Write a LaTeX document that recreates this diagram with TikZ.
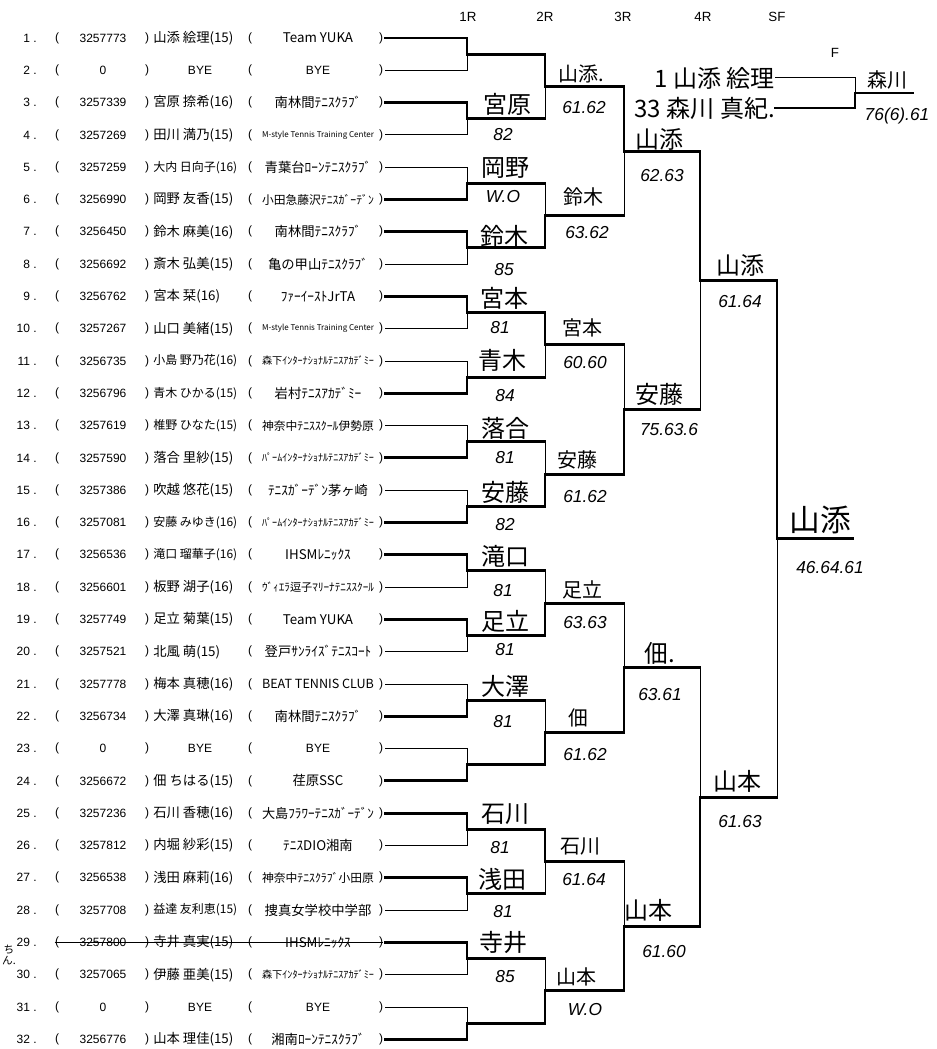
\documentclass[tikz,border=0pt]{standalone}
\usepackage{fontspec}
\usepackage{graphicx}
\setmainfont{Liberation Sans}
\newfontfamily\jp{Noto Sans CJK JP}
\newsavebox\fitbox
\newcommand\fitw[2]{\sbox\fitbox{#2}\ifdim\wd\fitbox>#1\relax\resizebox{#1}{!}{\usebox\fitbox}\else\usebox\fitbox\fi}
\tikzset{
  rowtxt/.style={inner sep=0pt, font=\fontsize{9}{10}\selectfont},
  nametxt/.style={inner sep=0pt, font=\jp\fontsize{10}{11}\selectfont},
  win/.style={line width=2.2pt, line join=miter, line cap=rect},
  lose/.style={line width=0.75pt},
  hwA/.style={inner sep=0pt, font=\jp\fontsize{18}{19}\selectfont},
  hwB/.style={inner sep=0pt, font=\jp\fontsize{15}{16}\selectfont},
  hwC/.style={inner sep=0pt, font=\jp\fontsize{18}{19}\selectfont},
  hwD/.style={inner sep=0pt, font=\jp\fontsize{23}{24}\selectfont},
  score/.style={inner sep=0pt, font=\fontsize{13}{14}\selectfont\itshape},
  hdr/.style={inner sep=0pt, font=\fontsize{10}{12}\selectfont},
}
\begin{document}
\begin{tikzpicture}[x=0.75pt,y=-0.75pt]
\useasboundingbox (0,0) rectangle (937,1049);
\fill[white] (0,0) rectangle (937,1049);

% headers
\node[hdr] (h1) at (468,17) {1R};
\node[hdr] (h2) at (545,17) {2R};
\node[hdr] (h3) at (623,17) {3R};
\node[hdr] (h4) at (703,17) {4R};
\node[hdr] (h5) at (777,17) {SF};
\node[hdr] (h6) at (835,53) {F};

% player rows
\foreach \i/\id/\nm/\cl in {
 1/3257773/山添 絵理(15)/Team YUKA,
 3/3257339/宮原 捺希(16)/南林間ﾃﾆｽｸﾗﾌﾞ,
 4/3257269/田川 満乃(15)/M-style Tennis Training Center,
 5/3257259/大内 日向子(16)/青葉台ﾛｰﾝﾃﾆｽｸﾗﾌﾞ,
 6/3256990/岡野 友香(15)/小田急藤沢ﾃﾆｽｶﾞｰﾃﾞﾝ,
 7/3256450/鈴木 麻美(16)/南林間ﾃﾆｽｸﾗﾌﾞ,
 8/3256692/斎木 弘美(15)/亀の甲山ﾃﾆｽｸﾗﾌﾞ,
 9/3256762/宮本 栞(16)/ﾌｧｰｲｰｽﾄJrTA,
 10/3257267/山口 美緒(15)/M-style Tennis Training Center,
 11/3256735/小島 野乃花(16)/森下ｲﾝﾀｰﾅｼｮﾅﾙﾃﾆｽｱｶﾃﾞﾐｰ,
 12/3256796/青木 ひかる(15)/岩村ﾃﾆｽｱｶﾃﾞﾐｰ,
 13/3257619/椎野 ひなた(15)/神奈中ﾃﾆｽｽｸｰﾙ伊勢原,
 14/3257590/落合 里紗(15)/ﾊﾟｰﾑｲﾝﾀｰﾅｼｮﾅﾙﾃﾆｽｱｶﾃﾞﾐｰ,
 15/3257386/吹越 悠花(15)/ﾃﾆｽｶﾞｰﾃﾞﾝ茅ヶ崎,
 16/3257081/安藤 みゆき(16)/ﾊﾟｰﾑｲﾝﾀｰﾅｼｮﾅﾙﾃﾆｽｱｶﾃﾞﾐｰ,
 17/3256536/滝口 瑠華子(16)/IHSMﾚﾆｯｸｽ,
 18/3256601/板野 湖子(16)/ｳﾞｨｴﾗ逗子ﾏﾘｰﾅﾃﾆｽｽｸｰﾙ,
 19/3257749/足立 菊葉(15)/Team YUKA,
 20/3257521/北風 萌(15)/登戸ｻﾝﾗｲｽﾞﾃﾆｽｺｰﾄ,
 21/3257778/梅本 真穂(16)/BEAT TENNIS CLUB,
 22/3256734/大澤 真琳(16)/南林間ﾃﾆｽｸﾗﾌﾞ,
 24/3256672/佃 ちはる(15)/荏原SSC,
 25/3257236/石川 香穂(16)/大島ﾌﾗﾜｰﾃﾆｽｶﾞｰﾃﾞﾝ,
 26/3257812/内堀 紗彩(15)/ﾃﾆｽDIO湘南,
 27/3256538/浅田 麻莉(16)/神奈中ﾃﾆｽｸﾗﾌﾞ小田原,
 28/3257708/益達 友利恵(15)/捜真女学校中学部,
 29/3257800/寺井 真実(15)/IHSMﾚﾆｯｸｽ,
 30/3257065/伊藤 亜美(15)/森下ｲﾝﾀｰﾅｼｮﾅﾙﾃﾆｽｱｶﾃﾞﾐｰ,
 32/3256776/山本 理佳(15)/湘南ﾛｰﾝﾃﾆｽｸﾗﾌﾞ}{
  \pgfmathsetmacro\yy{38+(\i-1)*32.3}
  \node[rowtxt, anchor=east] (no\i) at (37,\yy) {\i\ .};
  \node[rowtxt] (pa\i) at (57,\yy) {(};
  \node[rowtxt] (id\i) at (103,\yy) {\id};
  \node[rowtxt] (pb\i) at (147,\yy) {)};
  \node[nametxt, anchor=west] (nm\i) at (153,\yy) {\fitw{63pt}{\nm}};
  \node[rowtxt] (pc\i) at (250,\yy) {(};
  \node[nametxt] (cl\i) at (318,\yy) {\fitw{84pt}{\cl}};
  \node[rowtxt] (pd\i) at (381,\yy) {)};
}
\foreach \i in {2,23,31}{
  \pgfmathsetmacro\yy{38+(\i-1)*32.3}
  \node[rowtxt, anchor=east] (no\i) at (37,\yy) {\i\ .};
  \node[rowtxt] (pa\i) at (57,\yy) {(};
  \node[rowtxt] (id\i) at (103,\yy) {0};
  \node[rowtxt] (pb\i) at (147,\yy) {)};
  \node[rowtxt] (nm\i) at (200,\yy) {BYE};
  \node[rowtxt] (pc\i) at (250,\yy) {(};
  \node[rowtxt] (cl\i) at (318,\yy) {BYE};
  \node[rowtxt] (pd\i) at (381,\yy) {)};
}
% struck-out entry
\draw[lose] (pa29.west) -- (pd29.east);
\node[inner sep=0pt, align=center, font=\jp\fontsize{8}{8}\selectfont] (note) at (9,955) {ち\\ん.};

% bracket coordinates
\foreach \i in {1,...,32} \coordinate (r\i) at (385,{38+(\i-1)*32.3});
\foreach \k in {1,...,16} \coordinate (m1-\k) at (467,{38+(2*\k-1.5)*32.3});
\foreach \k in {1,...,8} \coordinate (m2-\k) at (545,{38+(4*\k-2.5)*32.3});
\foreach \k in {1,...,4} \coordinate (m3-\k) at (624,{38+(8*\k-4.5)*32.3});
\foreach \k in {1,2} \coordinate (m4-\k) at (700,{38+(16*\k-8.5)*32.3});
\coordinate (m5-1) at (777,{38+15.5*32.3});
\coordinate (sfend) at (853,{38+15.5*32.3});

% 1R
\foreach \k/\ts/\bs in {1/win/lose,2/win/lose,3/lose/win,4/win/lose,5/win/lose,6/lose/win,7/lose/win,8/lose/win,9/win/lose,10/win/lose,11/lose/win,12/lose/win,13/win/lose,14/win/lose,15/win/lose,16/lose/win}{
  \pgfmathtruncatemacro\t{2*\k-1}
  \pgfmathtruncatemacro\b{2*\k}
  \draw[\ts] (r\t) -- (m1-\k |- r\t) -- (m1-\k);
  \draw[\bs] (r\b) -- (m1-\k |- r\b) -- (m1-\k);
}
% 2R
\foreach \k/\ts/\bs in {1/win/lose,2/lose/win,3/win/lose,4/lose/win,5/lose/win,6/lose/win,7/win/lose,8/lose/win}{
  \pgfmathtruncatemacro\t{2*\k-1}
  \pgfmathtruncatemacro\b{2*\k}
  \draw[win] (m1-\t) -- (m2-\k |- m1-\t);
  \draw[win] (m1-\b) -- (m2-\k |- m1-\b);
  \draw[\ts] (m2-\k |- m1-\t) -- (m2-\k);
  \draw[\bs] (m2-\k |- m1-\b) -- (m2-\k);
}
% 3R
\foreach \k/\ts/\bs in {1/win/lose,2/lose/win,3/lose/win,4/lose/win}{
  \pgfmathtruncatemacro\t{2*\k-1}
  \pgfmathtruncatemacro\b{2*\k}
  \draw[win] (m2-\t) -- (m3-\k |- m2-\t);
  \draw[win] (m2-\b) -- (m3-\k |- m2-\b);
  \draw[\ts] (m3-\k |- m2-\t) -- (m3-\k);
  \draw[\bs] (m3-\k |- m2-\b) -- (m3-\k);
}
% 4R
\foreach \k/\ts/\bs in {1/win/lose,2/lose/win}{
  \pgfmathtruncatemacro\t{2*\k-1}
  \pgfmathtruncatemacro\b{2*\k}
  \draw[win] (m3-\t) -- (m4-\k |- m3-\t);
  \draw[win] (m3-\b) -- (m4-\k |- m3-\b);
  \draw[\ts] (m4-\k |- m3-\t) -- (m4-\k);
  \draw[\bs] (m4-\k |- m3-\b) -- (m4-\k);
}
% SF
\draw[win] (m4-1) -- (m5-1 |- m4-1);
\draw[win] (m4-2) -- (m5-1 |- m4-2);
\draw[win] (m5-1 |- m4-1) -- (m5-1);
\draw[lose] (m5-1 |- m4-2) -- (m5-1);
\draw[win] (m5-1) -- (sfend);

% handwritten results
\foreach \t/\x/\y [count=\c] in {宮原/507/104,岡野/505/168,鈴木/504/236,宮本/504/298,青木/502/360,落合/505/428,安藤/505/492,滝口/505/556,足立/505/621,大澤/505/686,石川/505/814,浅田/502/879,寺井/503/942}
  \node[hwA] (wa\c) at (\x,\y) {\t};
\foreach \t/\x/\y [count=\c] in {82/503/135,W.O/503/197,85/504/270,81/500/328,84/505/396,81/505/458,82/505/525,81/503/591,81/505/650,81/503/722,81/500/848,81/503/912,85/505/977}
  \node[score] (sa\c) at (\x,\y) {\t};
\foreach \t/\x/\y [count=\c] in {山添./581/74,鈴木/583/197,宮本/582/328,安藤/577/460,足立/582/590,佃/578/718,石川/580/846,山本/576/977}
  \node[hwB] (wb\c) at (\x,\y) {\t};
\foreach \t/\x/\y [count=\c] in {61.62/584/108,63.62/587/233,60.60/585/363,61.62/585/497,63.63/585/623,61.62/585/755,61.64/584/880,W.O/585/1010}
  \node[score] (sb\c) at (\x,\y) {\t};
\foreach \t/\x/\y [count=\c] in {山添/659/139,安藤/659/394,佃./660/653,山本/648/910,山添/740/265,山本/737/781}
  \node[hwC] (wc\c) at (\x,\y) {\t};
\foreach \t/\x/\y [count=\c] in {62.63/662/176,75.63.6/669/430,63.61/660/695,61.60/664/952,61.64/740/302,61.63/740/822}
  \node[score] (sc\c) at (\x,\y) {\t};
\node[hwD] (wd1) at (820,520) {山添};
\node[score] (sd1) at (830,568) {46.64.61};

% final
\node[hwC, anchor=east] (fa) at (775,78) {1 山添 絵理};
\node[hwC, anchor=east] (fb) at (775,108) {33 森川 真紀.};
\coordinate (fm) at (855,93);
\coordinate (fend) at (913,93);
\draw[lose] (fa.east) -- (fm |- fa.east) -- (fm);
\draw[win] (fb.east) -- (fm |- fb.east) -- (fm);
\draw[win] (fm) -- (fend);
\node[hwB] (fw) at (887,80) {森川};
\node[score] (fs) at (897,116) {76(6).61};
\end{tikzpicture}
\end{document}
